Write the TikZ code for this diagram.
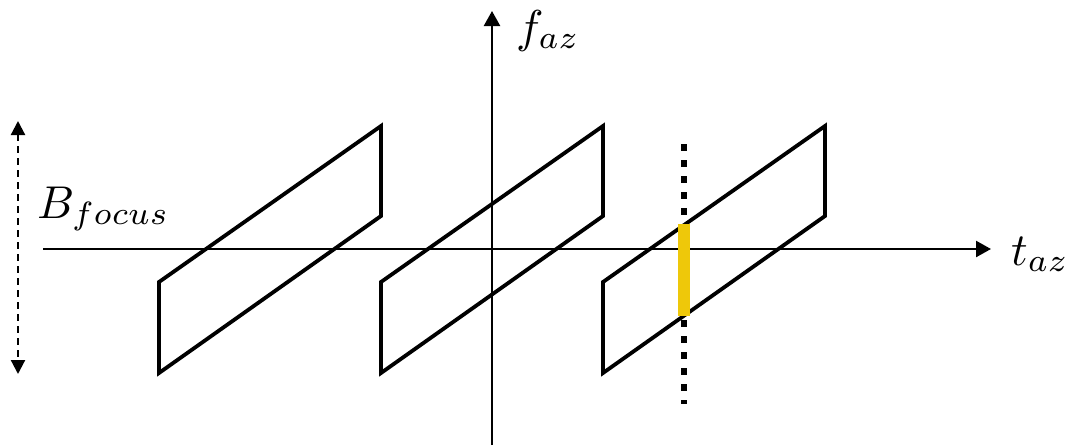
\documentclass[tikz,border=0pt]{standalone}
\usepackage{graphicx}
\usetikzlibrary{arrows.meta}
\definecolor{bandyellow}{RGB}{238,200,10}
\tikzset{
  axis/.style={line width=2.4pt,-{Triangle[length=15pt,width=16pt]}},
  para/.style={line width=3.8pt,line join=miter},
  bwarrow/.style={line width=2.2pt,dash pattern=on 7pt off 5pt,{Triangle[length=14pt,width=14pt]}-{Triangle[length=14pt,width=14pt]}},
  cut/.style={line width=6.5pt,dash pattern=on 7pt off 9pt},
  band/.style={line width=12pt,draw=bandyellow},
  lbl/.style={inner sep=0pt,anchor=base west}
}
\newcommand{\biglbl}[1]{\scalebox{4.6}{$#1$}}
\begin{document}
\begin{tikzpicture}[x=1pt,y=-1pt]
\useasboundingbox (0,0) rectangle (1074,445);
% axes
\coordinate (hs) at (43,249);
\coordinate (he) at (991,249);
\coordinate (vs) at (492,445);
\coordinate (ve) at (492,11);
\draw[axis] (hs) -- (he);
\draw[axis] (vs) -- (ve);
% parallelograms
\foreach \dx in {0,222,444}{
  \draw[para] (159+\dx,282) -- (381+\dx,126) -- (381+\dx,216) -- (159+\dx,373) -- cycle;
}
% bandwidth arrow
\coordinate (bt) at (18,121);
\coordinate (bb) at (18,374);
\draw[bwarrow] (bt) -- (bb);
% dotted cut and yellow band
\coordinate (ct) at (684,144);
\coordinate (cb) at (684,404);
\draw[cut] (ct) -- (cb);
\coordinate (yt) at (684,224);
\coordinate (yb) at (684,316);
\draw[band] (yt) -- (yb);
% labels
\node[lbl] (faz) at (516,42) {\biglbl{f_{az}}};
\node[lbl] (taz) at (1011,265) {\biglbl{t_{az}}};
\node[lbl] (bf) at (37,218) {\biglbl{B_{focus}}};
\end{tikzpicture}
\end{document}
